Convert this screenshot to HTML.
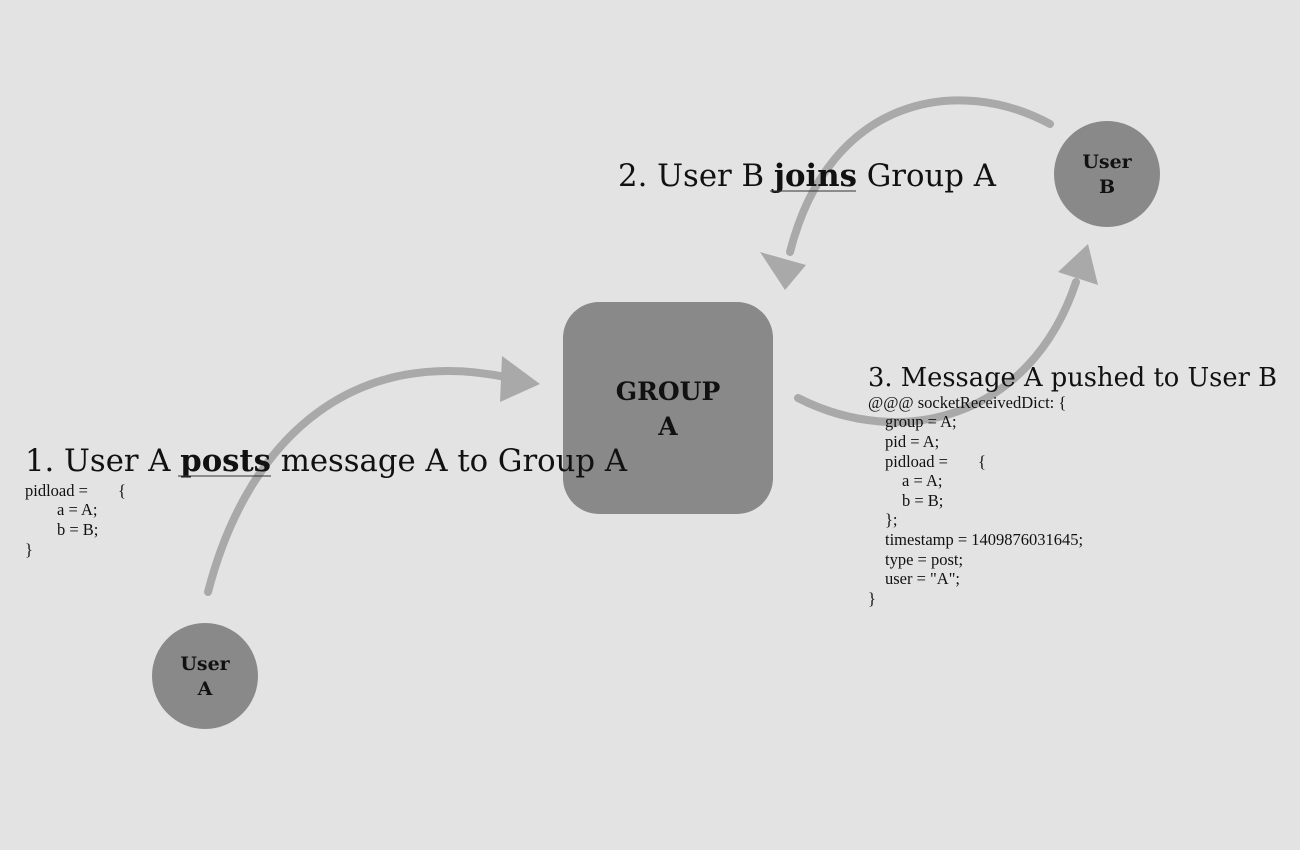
<!DOCTYPE html>
<html><head><meta charset="utf-8"><style>
html,body{margin:0;padding:0;background:#e3e3e3;}
svg{display:block;}
text{font-family:"DejaVu Serif","Liberation Serif",serif;fill:#111;}
.c{font-family:"Liberation Serif",serif;font-size:16.5px;fill:#111;}
</style></head><body>
<svg width="1300" height="850" viewBox="0 0 1300 850" xmlns="http://www.w3.org/2000/svg">
<rect width="1300" height="850" fill="#e3e3e3"/>
<g fill="none" stroke="#a9a9a9" stroke-width="8" stroke-linecap="round">
<path d="M208,592 C250,430 360,345 510,378"/>
<path d="M1050,124 C960,75 830,95 790,252"/>
<path d="M798,398 C900,450 1030,420 1076,282"/>
</g>
<g fill="#a9a9a9">
<polygon points="540,384 502,356 500,402"/>
<polygon points="785,290 760,252 806,265"/>
<polygon points="1088,244 1058,272 1098,285"/>
</g>
<rect x="563" y="302" width="210" height="212" rx="36" fill="#898989"/>
<circle cx="205" cy="676" r="53" fill="#898989"/>
<circle cx="1107" cy="174" r="53" fill="#898989"/>
<g font-weight="bold" text-anchor="middle">
<text x="668" y="400" font-size="25">GROUP</text>
<text x="668" y="435" font-size="25">A</text>
<text x="205" y="670" font-size="19">User</text>
<text x="205" y="695" font-size="19">A</text>
<text x="1107" y="168" font-size="19">User</text>
<text x="1107" y="193" font-size="19">B</text>
</g>
<text x="25" y="471" font-size="31" textLength="602" lengthAdjust="spacingAndGlyphs">1. User A <tspan font-weight="bold">posts</tspan> message A to Group A</text>
<line x1="178" y1="476" x2="271" y2="476" stroke="#333" stroke-width="1"/>
<text x="618" y="186" font-size="31" textLength="378" lengthAdjust="spacingAndGlyphs">2. User B <tspan font-weight="bold">joins</tspan> Group A</text>
<line x1="770" y1="191" x2="856" y2="191" stroke="#333" stroke-width="1"/>
<text x="868" y="386" font-size="26" textLength="409" lengthAdjust="spacingAndGlyphs">3. Message A pushed to User B</text>
<text class="c" x="25" y="496">pidload =</text>
<text class="c" x="118" y="496">{</text>
<text class="c" x="57" y="515">a = A;</text>
<text class="c" x="57" y="535">b = B;</text>
<text class="c" x="25" y="555">}</text>
<text class="c" x="868" y="408">@@@ socketReceivedDict: {</text>
<text class="c" x="885" y="427">group = A;</text>
<text class="c" x="885" y="447">pid = A;</text>
<text class="c" x="885" y="467">pidload =</text>
<text class="c" x="978" y="467">{</text>
<text class="c" x="902" y="486">a = A;</text>
<text class="c" x="902" y="506">b = B;</text>
<text class="c" x="885" y="525">};</text>
<text class="c" x="885" y="545">timestamp = 1409876031645;</text>
<text class="c" x="885" y="565">type = post;</text>
<text class="c" x="885" y="584">user = "A";</text>
<text class="c" x="868" y="604">}</text>
</svg>
</body></html>
